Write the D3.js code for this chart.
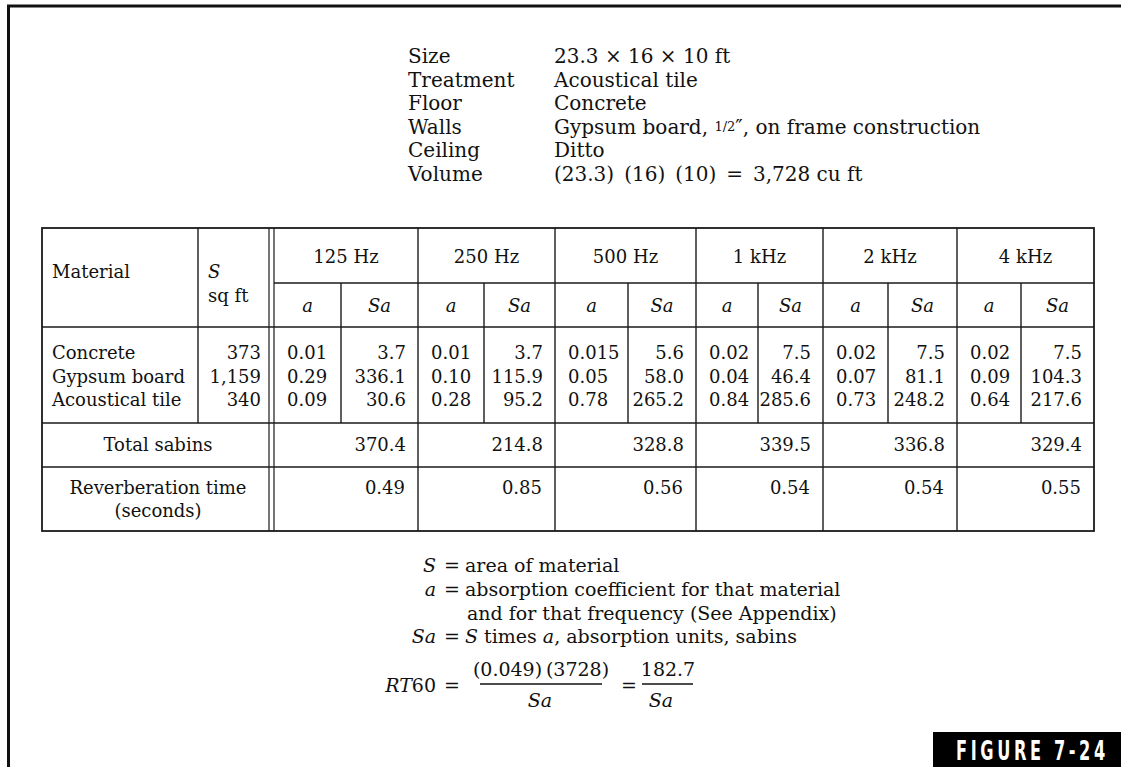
<!DOCTYPE html>
<html>
<head>
<meta charset="utf-8">
<script src="https://cdn.jsdelivr.net/npm/d3@7"></script>
<style>
  html, body { margin: 0; padding: 0; background: #fff; }
  svg { display: block; }
  text { font-family: "DejaVu Serif", "Liberation Serif", serif; fill: #111; }
  .it { font-style: italic; }
</style>
</head>
<body>
<div id="chart"></div>
<script>
// ---------- data ----------
const infoLabels = ["Size", "Treatment", "Floor", "Walls", "Ceiling", "Volume"];
const infoValues = ["23.3 \u00d7 16 \u00d7 10 ft", "Acoustical tile", "Concrete",
                    "Gypsum board, |1/2|\u2033, on frame construction", "Ditto",
                    "(23.3)\u2002(16)\u2002(10)\u2002=\u20023,728 cu ft"];
const materials = ["Concrete", "Gypsum board", "Acoustical tile"];
const areas = [373, 1159, 340];
const frequencies = ["125 Hz", "250 Hz", "500 Hz", "1 kHz", "2 kHz", "4 kHz"];
const coefficients = [
  ["0.01", "0.01", "0.015", "0.02", "0.02", "0.02"],
  ["0.29", "0.10", "0.05", "0.04", "0.07", "0.09"],
  ["0.09", "0.28", "0.78", "0.84", "0.73", "0.64"]
];
const sabins = [
  ["3.7", "3.7", "5.6", "7.5", "7.5", "7.5"],
  ["336.1", "115.9", "58.0", "46.4", "81.1", "104.3"],
  ["30.6", "95.2", "265.2", "285.6", "248.2", "217.6"]
];
const totalSabins = ["370.4", "214.8", "328.8", "339.5", "336.8", "329.4"];
const reverbTimes = ["0.49", "0.85", "0.56", "0.54", "0.54", "0.55"];
const figureLabel = "FIGURE 7-24";

// ---------- layout ----------
const W = 1121, H = 767;
const tableLeft = 42, tableRight = 1094, sCol = 198, dbl1 = 269, dbl2 = 274;
const groupEdges = [274, 418, 555, 696, 823, 957, 1094];
const splitEdges = [341, 484, 628, 758, 888, 1021];
const rowKeys = ["top", "freqBottom", "subBottom", "dataBottom", "totalBottom", "bottom"];
const rowEdges = [228, 283, 327, 423, 467, 531];

const xStart = d3.scaleOrdinal().domain(frequencies).range(groupEdges.slice(0, 6));
const xEnd = d3.scaleOrdinal().domain(frequencies).range(groupEdges.slice(1));
const xSplit = d3.scaleOrdinal().domain(frequencies).range(splitEdges);
const yRow = d3.scaleOrdinal().domain(rowKeys).range(rowEdges);
const yData = d3.scalePoint().domain(materials).range([359, 406]);
const yInfo = d3.scalePoint().domain(infoLabels).range([63, 181]);
const fmtArea = d3.format(",");

const svg = d3.select("#chart").append("svg").attr("width", W).attr("height", H);
svg.append("rect").attr("width", W).attr("height", H).attr("fill", "#fff");

// frame
svg.append("line").attr("x1", 7).attr("x2", W).attr("y1", 6).attr("y2", 6)
  .attr("stroke", "#111").attr("stroke-width", 3);
svg.append("line").attr("x1", 8.5).attr("x2", 8.5).attr("y1", 5).attr("y2", H)
  .attr("stroke", "#111").attr("stroke-width", 3);

// info block
const info = svg.append("g").style("font-size", "20px");
info.selectAll("text.lab").data(infoLabels).join("text").attr("class", "lab")
  .attr("x", 408).attr("y", d => yInfo(d)).text(d => d);
info.selectAll("text.val").data(infoValues).join("text").attr("class", "val")
  .attr("x", 554).attr("y", (d, i) => yInfo(infoLabels[i]))
  .each(function (d) {
    const t = d3.select(this);
    const parts = d.split("|");
    parts.forEach((p, j) => {
      const ts = t.append("tspan").text(p);
      if (j === 1) ts.style("font-size", "13px").attr("dy", -3);
      if (j === 2) ts.attr("dy", 3);
    });
  });

// table lines
const lines = svg.append("g").attr("stroke", "#1a1a1a").attr("stroke-width", 1.4).attr("fill", "none");
lines.append("rect").attr("x", tableLeft).attr("y", yRow("top"))
  .attr("width", tableRight - tableLeft).attr("height", yRow("bottom") - yRow("top"))
  .attr("stroke-width", 1.8);
lines.append("line").attr("x1", dbl2).attr("x2", tableRight)
  .attr("y1", yRow("freqBottom")).attr("y2", yRow("freqBottom"));
["subBottom", "dataBottom", "totalBottom"].forEach(k => {
  lines.append("line").attr("x1", tableLeft).attr("x2", tableRight)
    .attr("y1", yRow(k)).attr("y2", yRow(k));
});
lines.append("line").attr("x1", sCol).attr("x2", sCol)
  .attr("y1", yRow("top")).attr("y2", yRow("dataBottom"));
[dbl1, dbl2].forEach(x => lines.append("line").attr("x1", x).attr("x2", x)
  .attr("y1", yRow("top")).attr("y2", yRow("bottom")).attr("stroke-width", 1.2));
lines.selectAll("line.grp").data(frequencies.slice(1)).join("line").attr("class", "grp")
  .attr("x1", d => xStart(d)).attr("x2", d => xStart(d))
  .attr("y1", yRow("top")).attr("y2", yRow("bottom"));
lines.selectAll("line.split").data(frequencies).join("line").attr("class", "split")
  .attr("x1", d => xSplit(d)).attr("x2", d => xSplit(d))
  .attr("y1", yRow("freqBottom")).attr("y2", yRow("dataBottom"));

// table text
const tt = svg.append("g").style("font-size", "18px");
tt.append("text").attr("x", 52).attr("y", 278).text("Material");
tt.append("text").attr("x", 208).attr("y", 278).attr("class", "it").text("S");
tt.append("text").attr("x", 208).attr("y", 302).text("sq ft");
tt.selectAll("text.freq").data(frequencies).join("text").attr("class", "freq")
  .attr("x", d => (xStart(d) + xEnd(d)) / 2).attr("y", 263)
  .attr("text-anchor", "middle").text(d => d);
tt.selectAll("text.ah").data(frequencies).join("text").attr("class", "ah it")
  .attr("x", d => (xStart(d) + xSplit(d)) / 2).attr("y", 312)
  .attr("text-anchor", "middle").text("a");
tt.selectAll("text.sah").data(frequencies).join("text").attr("class", "sah it")
  .attr("x", d => (xSplit(d) + xEnd(d)) / 2).attr("y", 312)
  .attr("text-anchor", "middle").text("Sa");

tt.selectAll("text.mat").data(materials).join("text").attr("class", "mat")
  .attr("x", 52).attr("y", d => yData(d)).text(d => d);
tt.selectAll("text.area").data(areas).join("text").attr("class", "area")
  .attr("x", 261).attr("y", (d, i) => yData(materials[i]))
  .attr("text-anchor", "end").text(d => fmtArea(d));

materials.forEach((m, i) => {
  tt.selectAll("text.co" + i).data(frequencies).join("text").attr("class", "co" + i)
    .attr("x", d => xStart(d) + 13).attr("y", yData(m))
    .text((d, j) => coefficients[i][j]);
  tt.selectAll("text.sa" + i).data(frequencies).join("text").attr("class", "sa" + i)
    .attr("x", d => xEnd(d) - 12).attr("y", yData(m)).attr("text-anchor", "end")
    .text((d, j) => sabins[i][j]);
});

tt.append("text").attr("x", 158).attr("y", 451).attr("text-anchor", "middle").text("Total sabins");
tt.selectAll("text.tot").data(frequencies).join("text").attr("class", "tot")
  .attr("x", d => xEnd(d) - 12).attr("y", 451).attr("text-anchor", "end")
  .text((d, i) => totalSabins[i]);
tt.append("text").attr("x", 158).attr("y", 494).attr("text-anchor", "middle").text("Reverberation time");
tt.append("text").attr("x", 158).attr("y", 517).attr("text-anchor", "middle").text("(seconds)");
tt.selectAll("text.rt").data(frequencies).join("text").attr("class", "rt")
  .attr("x", d => xEnd(d) - 13).attr("y", 494).attr("text-anchor", "end")
  .text((d, i) => reverbTimes[i]);

// notes
const nt = svg.append("g").style("font-size", "19px");
const eqX = 452, leftEnd = 436, rightStart = 465;
const noteRows = [
  { y: 572, left: [["S", true]], right: [["area of material", false]] },
  { y: 596, left: [["a", true]], right: [["absorption coefficient for that material", false]] },
  { y: 620, left: null, right: [["and for that frequency (See Appendix)", false]] },
  { y: 643, left: [["Sa", true]], right: [["S", true], [" times ", false], ["a", true], [", absorption units, sabins", false]] }
];
noteRows.forEach(r => {
  if (r.left) {
    const t = nt.append("text").attr("x", leftEnd).attr("y", r.y).attr("text-anchor", "end");
    r.left.forEach(([s, it]) => t.append("tspan").attr("class", it ? "it" : null).text(s));
    nt.append("text").attr("x", eqX).attr("y", r.y).attr("text-anchor", "middle").text("=");
  }
  const t2 = nt.append("text").attr("x", r.left ? rightStart : rightStart + 2).attr("y", r.y);
  r.right.forEach(([s, it]) => t2.append("tspan").attr("class", it ? "it" : null).text(s));
});
// RT60 formula
const rt = nt.append("text").attr("x", leftEnd).attr("y", 692).attr("text-anchor", "end");
rt.append("tspan").attr("class", "it").text("RT");
rt.append("tspan").text("60");
nt.append("text").attr("x", eqX).attr("y", 692).attr("text-anchor", "middle").text("=");
nt.append("text").attr("x", 541).attr("y", 676).attr("text-anchor", "middle").text("(0.049)\u2009(3728)");
nt.append("line").attr("x1", 480).attr("x2", 602).attr("y1", 684).attr("y2", 684)
  .attr("stroke", "#111").attr("stroke-width", 1.3);
nt.append("text").attr("x", 540).attr("y", 707).attr("text-anchor", "middle").attr("class", "it").text("Sa");
nt.append("text").attr("x", 629).attr("y", 692).attr("text-anchor", "middle").text("=");
nt.append("text").attr("x", 668).attr("y", 676).attr("text-anchor", "middle").text("182.7");
nt.append("line").attr("x1", 642).attr("x2", 693).attr("y1", 684).attr("y2", 684)
  .attr("stroke", "#111").attr("stroke-width", 1.3);
nt.append("text").attr("x", 661).attr("y", 707).attr("text-anchor", "middle").attr("class", "it").text("Sa");

// figure label
svg.append("rect").attr("x", 933).attr("y", 732).attr("width", W - 933).attr("height", H - 732).attr("fill", "#000");
svg.append("text").attr("transform", "translate(956,760) scale(0.6,1)")
  .attr("x", 0).attr("y", 0)
  .style("font-family", "'DejaVu Sans', sans-serif")
  .style("font-weight", "bold").style("font-size", "27px").style("letter-spacing", "6px").style("fill", "#fff")
  .text(figureLabel);
</script>
</body>
</html>
